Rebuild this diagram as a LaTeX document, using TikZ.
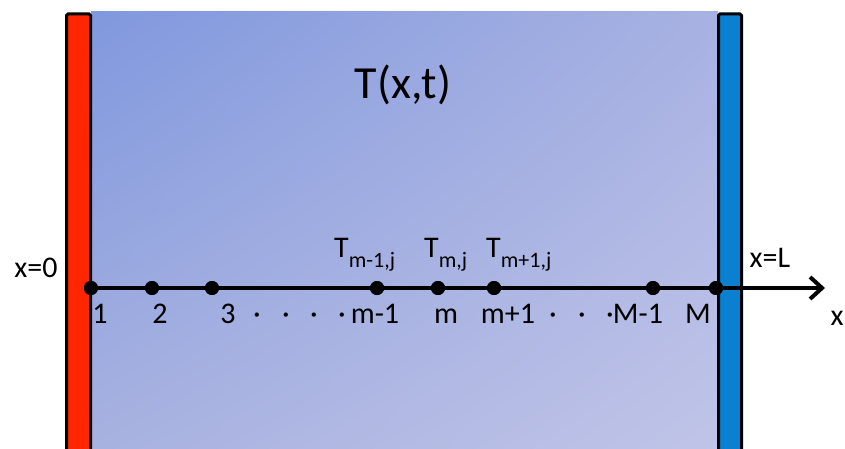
\documentclass[tikz,border=0pt]{standalone}
\usepackage{fontspec}
\setmainfont{Carlito}
\usetikzlibrary{arrows.meta,shadings}
\definecolor{hotred}{RGB}{255,38,0}
\definecolor{coldblue}{RGB}{10,128,208}
\definecolor{bgUL}{RGB}{128,152,222}
\definecolor{bgUR}{RGB}{168,178,226}
\definecolor{bgLL}{RGB}{168,178,224}
\definecolor{bgLR}{RGB}{192,196,232}
\tikzset{
  gridpt/.style={circle,fill=black,inner sep=0pt,minimum size=14pt},
  lbl/.style={anchor=base,inner sep=0pt,font=\fontsize{30}{36}\selectfont},
  title/.style={anchor=base,inner sep=0pt,font=\fontsize{46}{54}\selectfont},
  axisline/.style={line width=4.5pt,-{Straight Barb[length=12pt,width=22pt,line width=4pt]}},
  wall/.style={line width=3pt,draw=black,rounded corners=1.5pt}
}
\newcommand{\subtxt}[1]{\raisebox{-10pt}{\fontsize{22}{26}\selectfont #1}}
\begin{document}
\begin{tikzpicture}[x=1pt,y=-1pt]
\useasboundingbox (0,0) rectangle (845,449);
\clip (0,0) rectangle (845,449);
\fill[white] (0,0) rectangle (845,449);
% medium
\shade[upper left=bgUL,upper right=bgUR,lower left=bgLL,lower right=bgLR] (91,12) rectangle (718,452);
% walls
\filldraw[wall,fill=hotred] (66.5,14) rectangle (90.5,460);
\filldraw[wall,fill=coldblue] (718.5,14) rectangle (741.5,460);
% title
\node[title] (Txt) at (403,99) {T(x,t)};
% grid points
\node[gridpt] (p1) at (91,288) {};
\node[gridpt] (p2) at (152,288) {};
\node[gridpt] (p3) at (212,288) {};
\node[gridpt] (pm1) at (377,288) {};
\node[gridpt] (pm) at (438,288) {};
\node[gridpt] (pp1) at (494,288) {};
\node[gridpt] (pM1) at (653,288) {};
\node[gridpt] (pM) at (716,288) {};
\coordinate (xend) at (825,288);
\draw[axisline] (p1.center) -- (xend);
\foreach \n in {p1,p2,p3,pm1,pm,pp1,pM1,pM} \fill (\n) circle (7pt);
% boundary labels
\node[lbl] (x0) at (36,277) {x=0};
\node[lbl] (xL) at (770,267) {x=L};
\node[lbl] (xlab) at (837,325) {x};
% temperatures
\node[lbl,anchor=base west] (Tm1) at (334,257) {T\subtxt{m-1,j}};
\node[lbl,anchor=base west] (Tm) at (424,257) {T\subtxt{m,j}};
\node[lbl,anchor=base west] (Tp1) at (486,257) {T\subtxt{m+1,j}};
% index labels
\node[lbl] (l1) at (100,323) {1};
\node[lbl] (l2) at (160,323) {2};
\node[lbl] (l3) at (228,323) {3};
\node[lbl] (d1) at (257,323) {·};
\node[lbl] (d2) at (286,323) {·};
\node[lbl] (d3) at (314,323) {·};
\node[lbl] (d4) at (342,323) {·};
\node[lbl] (lm1) at (375,323) {m-1};
\node[lbl] (lm) at (446,323) {m};
\node[lbl] (lp1) at (508,323) {m+1};
\node[lbl] (d5) at (553,323) {·};
\node[lbl] (d6) at (582,323) {·};
\node[lbl] (d7) at (610,323) {·};
\node[lbl] (lM1) at (638,323) {M-1};
\node[lbl] (lM) at (698,323) {M};
\end{tikzpicture}
\end{document}
